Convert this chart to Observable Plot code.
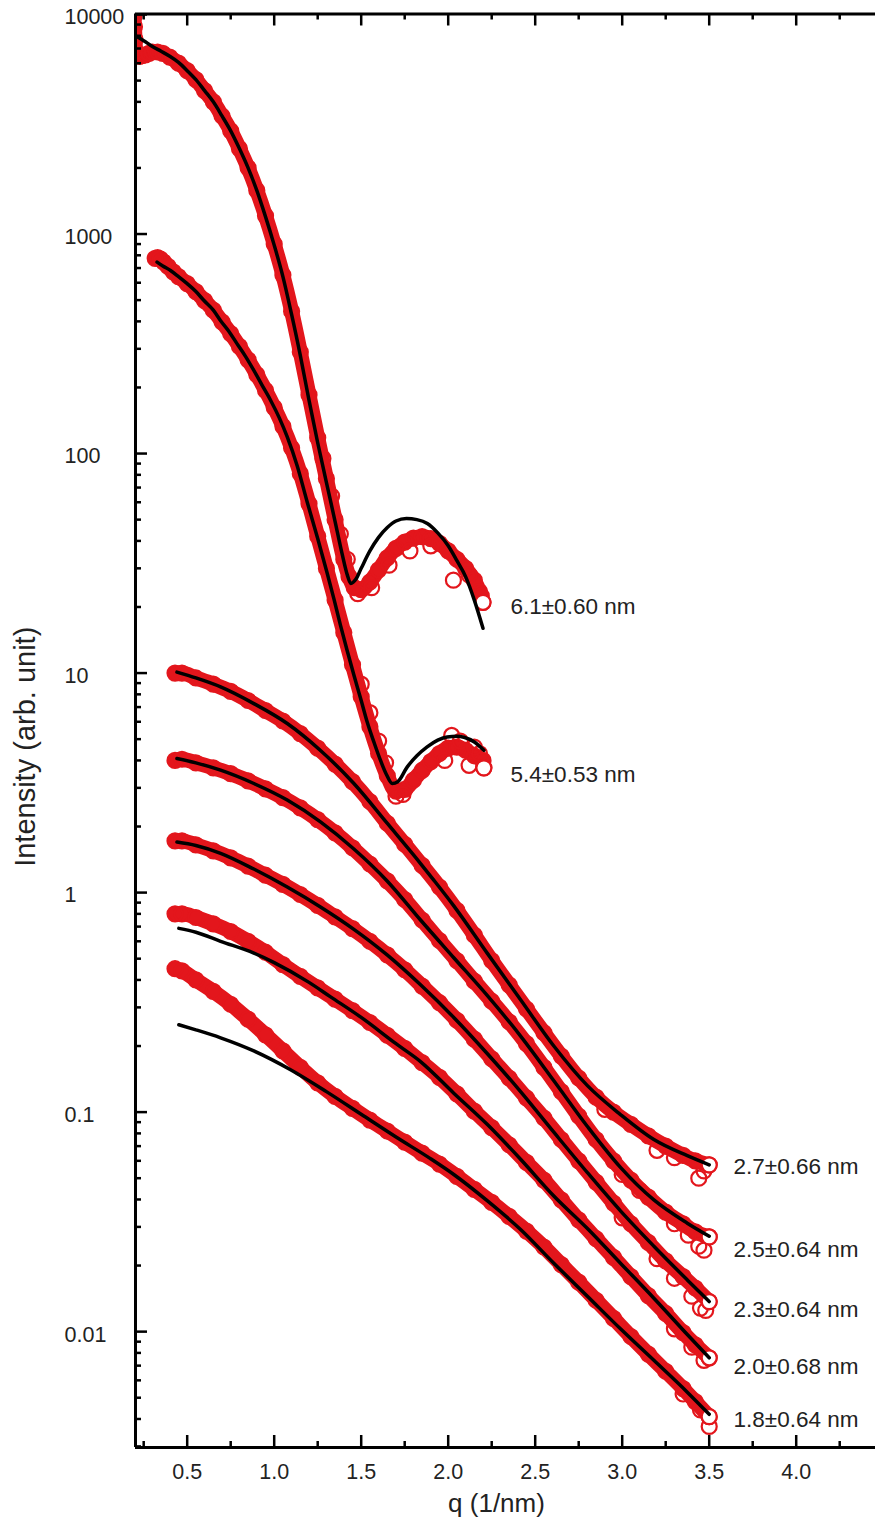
<!DOCTYPE html>
<html><head><meta charset="utf-8">
<script src="https://cdn.jsdelivr.net/npm/d3@7"></script>
<script src="https://cdn.jsdelivr.net/npm/@observablehq/plot@0.6"></script>
<style>body{margin:0;background:#fff} svg{display:block}</style>
</head><body><div id="chart"></div>
<script>
// ---- data: [q (1/nm), intensity] ----
const seriesNames = ["6.1±0.60 nm","5.4±0.53 nm","2.7±0.66 nm","2.5±0.64 nm","2.3±0.64 nm","2.0±0.68 nm","1.8±0.64 nm"];

const data61 = [[0.194,9800],[0.197,8800],[0.2,7700],[0.204,6800],[0.212,6500],[0.225,6450],[0.24,6500],[0.26,6550],[0.28,6650],[0.3,6750],[0.33,6750],[0.36,6650],[0.4,6400],[0.45,6000],[0.5,5550],[0.55,5050],[0.6,4500],[0.65,4000],[0.7,3450],[0.75,2950],[0.8,2450],[0.85,2000],[0.9,1580],[0.95,1210],[1.0,900],[1.05,650],[1.1,445],[1.15,290],[1.2,185],[1.25,118],[1.3,77],[1.35,50],[1.4,33],[1.43,27.5],[1.46,24.5],[1.5,24],[1.55,26],[1.6,29.5],[1.65,33.5],[1.7,37],[1.75,39.5],[1.8,41.2],[1.85,41.8],[1.9,41],[1.95,39],[2.0,36],[2.05,33],[2.1,30],[2.15,26.5],[2.18,23.5],[2.2,21]];
const stray61 = [[1.28,95],[1.33,64],[1.38,43],[1.42,33],[1.48,23],[1.56,24.5],[1.66,31],[1.78,36],[1.9,38],[2.03,26.5],[2.12,28],[2.19,22.5]];
const fit61 = [[0.2029,8000],[0.25,7600],[0.3,7150],[0.35,6800],[0.4,6450],[0.45,6050],[0.5,5550],[0.55,5050],[0.6,4500],[0.65,4000],[0.7,3450],[0.75,2950],[0.8,2450],[0.85,2000],[0.9,1580],[0.95,1200],[1.0,890],[1.05,640],[1.1,430],[1.15,280],[1.2,175],[1.25,112],[1.3,74],[1.35,49],[1.39,35],[1.42,28],[1.44,25.6],[1.47,26.8],[1.5,30],[1.55,36],[1.6,41.5],[1.65,46],[1.7,49.3],[1.76,50.6],[1.82,50],[1.88,48],[1.94,43.5],[2.0,38],[2.05,32.5],[2.1,27.5],[2.15,21.5],[2.2,16]];

const data54 = [[0.316,775],[0.33,780],[0.345,770],[0.365,745],[0.39,712],[0.42,672],[0.45,640],[0.5,594],[0.55,547],[0.6,497],[0.65,450],[0.7,398],[0.75,352],[0.8,308],[0.85,267],[0.9,229],[0.95,194],[1.0,162],[1.05,133],[1.1,106],[1.15,81],[1.2,59],[1.25,42],[1.3,30],[1.35,21.5],[1.4,15.3],[1.45,10.9],[1.5,7.8],[1.55,5.7],[1.6,4.3],[1.65,3.4],[1.7,2.9],[1.75,2.95],[1.8,3.25],[1.85,3.6],[1.9,3.95],[1.95,4.3],[2.0,4.55],[2.05,4.6],[2.1,4.45],[2.15,4.2],[2.2,4.0],[2.205,3.7]];
const stray54 = [[1.5,8.9],[1.55,6.6],[1.6,4.9],[1.64,3.9],[1.7,2.75],[1.74,2.8],[1.98,4.0],[2.02,5.2],[2.07,4.9],[2.12,3.8],[2.15,4.6],[2.18,4.3]];
const fit54 = [[0.327,745],[0.36,715],[0.404,682],[0.45,640],[0.5,594],[0.55,547],[0.595,499],[0.65,450],[0.691,404],[0.74,360],[0.787,316],[0.835,277],[0.883,239],[0.93,205],[0.979,175],[1.03,145],[1.075,119],[1.132,88],[1.19,60],[1.25,41],[1.305,28.4],[1.345,21.5],[1.381,16.5],[1.42,12.6],[1.458,9.8],[1.5,7.5],[1.534,6.0],[1.575,4.8],[1.611,4.0],[1.645,3.45],[1.678,3.14],[1.71,3.2],[1.764,3.73],[1.82,4.2],[1.879,4.61],[1.94,4.95],[1.994,5.12],[2.05,5.15],[2.09,5.1],[2.15,4.85],[2.205,4.45]];

const data27 = [[0.43,10.0],[0.47,10.0],[0.55,9.5],[0.65,8.9],[0.75,8.25],[0.85,7.5],[0.95,6.75],[1.05,6.05],[1.15,5.3],[1.25,4.55],[1.35,3.85],[1.45,3.2],[1.55,2.6],[1.65,2.07],[1.75,1.66],[1.85,1.33],[1.95,1.06],[2.05,0.83],[2.15,0.64],[2.25,0.49],[2.35,0.38],[2.45,0.295],[2.55,0.23],[2.65,0.18],[2.75,0.143],[2.85,0.117],[2.95,0.1],[3.05,0.088],[3.15,0.078],[3.25,0.07],[3.35,0.0635],[3.42,0.06],[3.5,0.0575]];
const stray27 = [[2.9,0.103],[3.2,0.067],[3.3,0.062],[3.44,0.05],[3.47,0.054]];
const fit27 = [[0.441,10.1],[0.55,9.5],[0.692,8.65],[0.883,7.26],[1.075,5.89],[1.266,4.44],[1.458,3.14],[1.649,2.07],[1.84,1.36],[1.917,1.14],[2.032,0.87],[2.224,0.53],[2.416,0.325],[2.607,0.2],[2.8,0.132],[2.99,0.0975],[3.182,0.075],[3.374,0.0633],[3.5,0.0575]];

const data25 = [[0.43,4.0],[0.47,4.05],[0.55,3.9],[0.65,3.7],[0.75,3.48],[0.85,3.23],[0.95,2.97],[1.05,2.71],[1.15,2.43],[1.25,2.15],[1.35,1.87],[1.45,1.6],[1.55,1.35],[1.65,1.13],[1.75,0.93],[1.85,0.75],[1.95,0.605],[2.05,0.49],[2.15,0.395],[2.25,0.32],[2.35,0.258],[2.45,0.205],[2.55,0.16],[2.65,0.124],[2.75,0.096],[2.85,0.075],[2.95,0.06],[3.05,0.049],[3.15,0.041],[3.25,0.035],[3.35,0.031],[3.42,0.0285],[3.5,0.027]];
const stray25 = [[3.0,0.052],[3.1,0.044],[3.3,0.031],[3.38,0.0275],[3.44,0.0245],[3.47,0.0235]];
const fit25 = [[0.441,4.08],[0.55,3.9],[0.692,3.61],[0.883,3.14],[1.075,2.64],[1.266,2.1],[1.458,1.58],[1.649,1.13],[1.841,0.75],[2.032,0.505],[2.224,0.34],[2.416,0.222],[2.607,0.139],[2.8,0.086],[2.99,0.056],[3.182,0.0398],[3.374,0.0312],[3.5,0.0272]];

const data23 = [[0.43,1.72],[0.47,1.72],[0.55,1.65],[0.65,1.55],[0.75,1.44],[0.85,1.32],[0.95,1.2],[1.05,1.09],[1.15,0.98],[1.25,0.875],[1.35,0.775],[1.45,0.685],[1.55,0.6],[1.65,0.52],[1.75,0.445],[1.85,0.375],[1.95,0.315],[2.05,0.262],[2.15,0.215],[2.25,0.175],[2.35,0.143],[2.45,0.116],[2.55,0.094],[2.65,0.075],[2.75,0.06],[2.85,0.048],[2.95,0.0385],[3.05,0.031],[3.15,0.0255],[3.25,0.021],[3.35,0.0178],[3.42,0.0158],[3.5,0.0137]];
const stray23 = [[3.0,0.033],[3.2,0.0215],[3.3,0.0175],[3.4,0.0145],[3.45,0.0128],[3.48,0.0125]];
const fit23 = [[0.441,1.7],[0.55,1.64],[0.692,1.51],[0.883,1.28],[1.075,1.06],[1.266,0.86],[1.458,0.68],[1.649,0.52],[1.841,0.38],[2.032,0.27],[2.224,0.185],[2.416,0.124],[2.607,0.081],[2.8,0.053],[2.99,0.0355],[3.182,0.0245],[3.374,0.0172],[3.5,0.0137]];

const data20 = [[0.43,0.8],[0.47,0.8],[0.55,0.77],[0.65,0.72],[0.75,0.665],[0.85,0.6],[0.95,0.535],[1.05,0.47],[1.15,0.415],[1.25,0.368],[1.35,0.327],[1.45,0.29],[1.55,0.256],[1.65,0.224],[1.75,0.195],[1.85,0.168],[1.95,0.144],[2.05,0.121],[2.15,0.101],[2.25,0.085],[2.35,0.071],[2.45,0.059],[2.55,0.049],[2.65,0.0398],[2.75,0.0323],[2.85,0.0265],[2.95,0.0218],[3.05,0.0178],[3.15,0.0146],[3.25,0.0121],[3.35,0.0099],[3.42,0.0087],[3.5,0.0076]];
const stray20 = [[3.3,0.0103],[3.4,0.0085],[3.47,0.0074]];
const fit20 = [[0.452,0.687],[0.55,0.66],[0.692,0.6],[0.883,0.53],[1.0,0.48],[1.2,0.39],[1.324,0.335],[1.5,0.27],[1.7,0.205],[1.841,0.17],[2.032,0.122],[2.224,0.088],[2.416,0.061],[2.607,0.0415],[2.8,0.0295],[2.99,0.0205],[3.182,0.0142],[3.374,0.0097],[3.5,0.0076]];

const data18 = [[0.43,0.45],[0.47,0.44],[0.55,0.4],[0.65,0.355],[0.75,0.31],[0.85,0.265],[0.95,0.225],[1.05,0.19],[1.15,0.16],[1.25,0.136],[1.35,0.118],[1.45,0.104],[1.55,0.092],[1.65,0.082],[1.75,0.073],[1.85,0.065],[1.95,0.058],[2.05,0.051],[2.15,0.0445],[2.25,0.0388],[2.35,0.0335],[2.45,0.0287],[2.55,0.0243],[2.65,0.0202],[2.75,0.0168],[2.85,0.0139],[2.95,0.0115],[3.05,0.0095],[3.15,0.0079],[3.25,0.0066],[3.35,0.0055],[3.42,0.0048],[3.5,0.0041]];
const stray18 = [[3.35,0.0052],[3.45,0.0044],[3.5,0.0037]];
const fit18 = [[0.452,0.25],[0.55,0.237],[0.692,0.218],[0.883,0.19],[1.094,0.156],[1.3,0.124],[1.515,0.096],[1.7,0.077],[1.898,0.0614],[2.032,0.052],[2.224,0.0395],[2.416,0.0292],[2.607,0.0205],[2.8,0.0145],[2.99,0.0103],[3.182,0.0074],[3.374,0.0053],[3.5,0.0042]];

// label anchors (q, intensity)
const labelQ = [2.358, 2.358, 3.64, 3.64, 3.64, 3.64, 3.64];
const labelI = [20.0, 3.43, 0.0564, 0.0237, 0.01256, 0.00693, 0.00396];

// axis ticks
const xMajor = [0.5, 1.0, 1.5, 2.0, 2.5, 3.0, 3.5, 4.0];
const xMinor = [0.25, 0.75, 1.25, 1.75, 2.25, 2.75, 3.25, 3.75, 4.25];
const yMajor = [0.01, 0.1, 1, 10, 100, 1000, 10000];
const yLabels = ["0.01", "0.1", "1", "10", "100", "1000", "10000"];
const yMinor = [0.003,0.004,0.005,0.006,0.007,0.008,0.009,
  0.02,0.03,0.04,0.05,0.06,0.07,0.08,0.09,
  0.2,0.3,0.4,0.5,0.6,0.7,0.8,0.9,
  2,3,4,5,6,7,8,9,20,30,40,50,60,70,80,90,
  200,300,400,500,600,700,800,900,2000,3000,4000,5000,6000,7000,8000,9000];

// ---- build tables ----
const dataSets = [data61, data54, data27, data25, data23, data20, data18];
const straySets = [stray61, stray54, stray27, stray25, stray23, stray20, stray18];
const fitSets = [fit61, fit54, fit27, fit25, fit23, fit20, fit18];
const rows = sets => sets.flatMap((s, k) => s.map(([q, I]) => ({s: seriesNames[k], q, I})));
const dataRows = rows(dataSets);
const strayRows = rows(straySets);
const fitRows = rows(fitSets);
const lastRows = dataSets.map((s, k) => ({s: seriesNames[k], q: s[s.length - 1][0], I: s[s.length - 1][1]}));
const labelRows = seriesNames.map((t, k) => ({t, q: labelQ[k], I: labelI[k]}));

const W = 875, H = 1523;
const mL = 135, mR = 0, mT = 13.5, mB = 76;
const plotW = W - mL - mR, plotH = H - mT - mB;
const RED = "#e3161c";
const FONT = "'Liberation Sans', Arial, Helvetica, sans-serif";
const yTop = Math.pow(10, 4.0023), yBot = Math.pow(10, -2.5278);

const chart = Plot.plot({
  width: W, height: H,
  marginLeft: mL, marginRight: mR, marginTop: mT, marginBottom: mB,
  style: {fontFamily: FONT, background: "white", color: "black"},
  x: {domain: [0.2029, 4.4557], axis: null},
  y: {type: "log", domain: [yBot, yTop], axis: null},
  marks: [
    // measured data: dense red open circles
    Plot.line(dataRows, {x: "q", y: "I", z: "s", stroke: RED, strokeWidth: 15, curve: "monotone-x", strokeLinecap: "round", strokeLinejoin: "round", clip: true}),
    Plot.dot(dataRows, {x: "q", y: "I", r: 7.5, stroke: RED, strokeWidth: 2.2, fill: "none", clip: true}),
    Plot.dot(strayRows, {x: "q", y: "I", r: 7.5, stroke: RED, strokeWidth: 2.2, fill: "none", clip: true}),
    Plot.dot(lastRows, {x: "q", y: "I", r: 7.5, stroke: RED, strokeWidth: 2.2, fill: "white", clip: true}),
    // fits
    Plot.line(fitRows, {x: "q", y: "I", z: "s", stroke: "black", strokeWidth: 3.5, curve: "monotone-x", clip: true}),
    // frame (left, top, bottom)
    Plot.ruleX([0.2029], {stroke: "black", strokeWidth: 3}),
    Plot.ruleY([yTop], {stroke: "black", strokeWidth: 3}),
    Plot.ruleY([yBot], {stroke: "black", strokeWidth: 3}),
    // inward ticks
    Plot.ruleX(xMajor, {x: d => d, insetTop: plotH - 12, stroke: "black", strokeWidth: 2.5}),
    Plot.ruleX(xMinor, {x: d => d, insetTop: plotH - 6, stroke: "black", strokeWidth: 2.5}),
    Plot.ruleX(xMajor, {x: d => d, insetBottom: plotH - 12, stroke: "black", strokeWidth: 2.5}),
    Plot.ruleX(xMinor, {x: d => d, insetBottom: plotH - 6, stroke: "black", strokeWidth: 2.5}),
    Plot.ruleY(yMajor, {y: d => d, insetRight: plotW - 12, stroke: "black", strokeWidth: 2.5}),
    Plot.ruleY(yMinor, {y: d => d, insetRight: plotW - 6, stroke: "black", strokeWidth: 2.5}),
    // tick labels
    Plot.text(xMajor, {x: d => d, text: d => d.toFixed(1), frameAnchor: "bottom", dy: 24.5, lineAnchor: "middle", fontSize: 21.5, fill: "#222"}),
    Plot.text(yMajor, {y: d => d, text: yLabels, frameAnchor: "left", textAnchor: "start", dx: -71, dy: 3, lineAnchor: "middle", fontSize: 21.5, fill: "#222"}),
    // axis titles
    Plot.text(["q (1/nm)"], {frameAnchor: "bottom", dx: -9, dy: 56, lineAnchor: "middle", fontSize: 26, fill: "#222"}),
    Plot.text(["Intensity (arb. unit)"], {frameAnchor: "left", textAnchor: "middle", dx: -110, dy: 16, rotate: -90, lineAnchor: "middle", fontSize: 29, fill: "#222"}),
    // series labels
    Plot.text(labelRows, {x: "q", y: "I", text: "t", textAnchor: "start", lineAnchor: "middle", fontSize: 22.5, fill: "#222"})
  ]
});
document.getElementById("chart").appendChild(chart);
</script>
</body></html>
